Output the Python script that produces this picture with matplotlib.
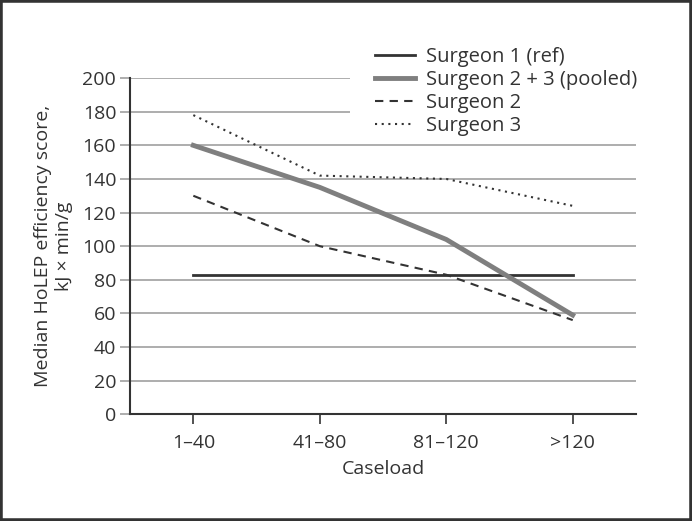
import matplotlib
matplotlib.use("Agg")
import matplotlib.pyplot as plt
from matplotlib.patches import Rectangle

caseload = ["1\u201340", "41\u201380", "81\u2013120", ">120"]
surgeon1_ref = [83, 83, 83, 83]
surgeon23_pooled = [160, 135, 104, 59]
surgeon2 = [130, 100, 83, 56]
surgeon3 = [178, 142, 140, 124]

plt.rcParams["font.family"] = ["Open Sans", "DejaVu Sans"]
plt.rcParams["font.size"] = 14

fig = plt.figure(figsize=(6.92, 5.21), dpi=100)
ax = fig.add_axes([0.188, 0.205, 0.731, 0.645])

x = range(len(caseload))
ax.plot(x, surgeon1_ref, color="#333333", lw=2, label="Surgeon 1 (ref)")
ax.plot(x, surgeon23_pooled, color="#7f7f7f", lw=3.5, label="Surgeon 2 + 3 (pooled)")
ax.plot(x, surgeon2, color="#333333", lw=1.5, ls=(0, (4, 3)), label="Surgeon 2")
ax.plot(x, surgeon3, color="#333333", lw=1.5, ls=(0, (1, 2.2)), label="Surgeon 3")

ax.set_xlim(-0.5, 3.5)
ax.set_ylim(0, 200)
ax.set_yticks(range(0, 201, 20))
ax.set_xticks(list(x))
ax.set_xticklabels(caseload)
ax.yaxis.grid(True, color="#a0a0a0", lw=1.2)
ax.set_axisbelow(True)

for side in ["top", "right"]:
    ax.spines[side].set_visible(False)
for side in ["left", "bottom"]:
    ax.spines[side].set_color("#333333")
    ax.spines[side].set_linewidth(1.5)

ax.tick_params(axis="y", length=7, width=1.2, color="#a0a0a0", labelcolor="#333333", pad=3)
ax.tick_params(axis="x", length=7, width=1.2, color="#333333", labelcolor="#333333", pad=7)

ax.set_xlabel("Caseload", color="#333333", labelpad=6)
ax.set_ylabel("Median HoLEP efficiency score,\nkJ \u00d7 min/g", color="#333333", labelpad=7)

# white block behind the legend hides the top gridlines
ax.add_patch(Rectangle((0.435, 0.84), 0.6, 0.2, transform=ax.transAxes,
                       facecolor="white", edgecolor="none", zorder=1, clip_on=False))

leg = ax.legend(loc="upper left", bbox_to_anchor=(0.542, 0.91), bbox_transform=fig.transFigure,
                frameon=False, fontsize=14.5, handlelength=2.0, handletextpad=0.55,
                labelspacing=0.15, borderpad=0, borderaxespad=0)
for t in leg.get_texts():
    t.set_color("#333333")

fig.patches.append(Rectangle((0, 0), 1, 1, transform=fig.transFigure, fill=False,
                             edgecolor="#333333", lw=4, zorder=10))

fig.savefig("out.png", dpi=100)
